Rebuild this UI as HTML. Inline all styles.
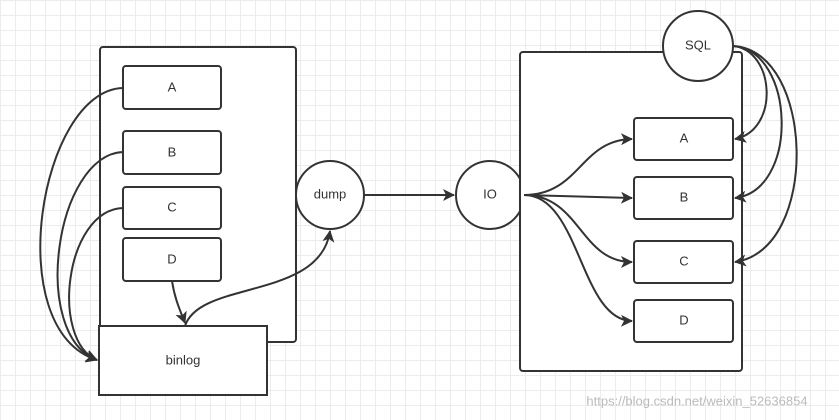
<!DOCTYPE html>
<html><head><style>
body{margin:0;width:839px;height:420px;overflow:hidden;background:#fff;
background-image:linear-gradient(#ececec 1px,transparent 1px),linear-gradient(90deg,#ececec 1px,transparent 1px);background-size:15px 15px;}
svg{position:absolute;left:0;top:0}
text{font-family:"Liberation Sans",sans-serif;font-size:13px;fill:#333;text-anchor:middle;dominant-baseline:middle}
</style></head><body>
<svg width="839" height="420">
<defs><marker id="a" markerWidth="12" markerHeight="12" refX="11" refY="6" orient="auto" markerUnits="userSpaceOnUse"><path d="M0,0 L12,6 L0,12 L3,6z" fill="#333"/></marker></defs>
<g stroke="#333" stroke-width="2" fill="#fff">
<rect x="100" y="47" width="196" height="295" rx="3"/>
<rect x="123" y="66" width="98" height="43" rx="3"/>
<rect x="123" y="131" width="98" height="43" rx="3"/>
<rect x="123" y="187" width="98" height="42" rx="3"/>
<rect x="123" y="238" width="98" height="43" rx="3"/>
<rect x="99" y="326" width="168" height="69"/>
<circle cx="330" cy="195" r="34"/>
<circle cx="490" cy="195" r="34"/>
<rect x="520" y="52" width="222" height="319" rx="3"/>
<circle cx="698" cy="46" r="35"/>
<rect x="634" y="118" width="99" height="42" rx="3"/>
<rect x="634" y="177" width="99" height="42" rx="3"/>
<rect x="634" y="241" width="99" height="42" rx="3"/>
<rect x="634" y="300" width="99" height="42" rx="3"/>
</g>
<g stroke="#333" stroke-width="2" fill="none" marker-end="url(#a)">
<path d="M123,88 C40,90 0,330 97,360"/>
<path d="M123,152 C55,155 30,335 97,360"/>
<path d="M123,208 C65,210 50,340 97,360"/>
<path d="M172,281 C175,300 180,310 185,323"/>
<path d="M185,326 C200,280 320,300 330,231"/>
<path d="M364,195 L454,195"/>
<path d="M524,195 C580,195 580,140 632,139"/>
<path d="M524,195 L632,198"/>
<path d="M524,195 C580,195 580,262 632,262"/>
<path d="M524,195 C580,195 580,320 632,321"/>
<path d="M733,46 C775,50 780,130 735,139"/>
<path d="M733,46 C795,50 800,190 735,198"/>
<path d="M733,46 C815,50 820,250 735,262"/>
</g>
<text x="172" y="88">A</text><text x="172" y="153">B</text><text x="172" y="208">C</text><text x="172" y="260">D</text>
<text x="183" y="361">binlog</text><text x="330" y="195">dump</text><text x="490" y="195">IO</text>
<text x="698" y="46">SQL</text>
<text x="684" y="139">A</text><text x="684" y="198">B</text><text x="684" y="262">C</text><text x="684" y="321">D</text>
<text x="697" y="402" style="fill:#bbb;font-size:13px">https://blog.csdn.net/weixin_52636854</text>
</svg>
</body></html>
